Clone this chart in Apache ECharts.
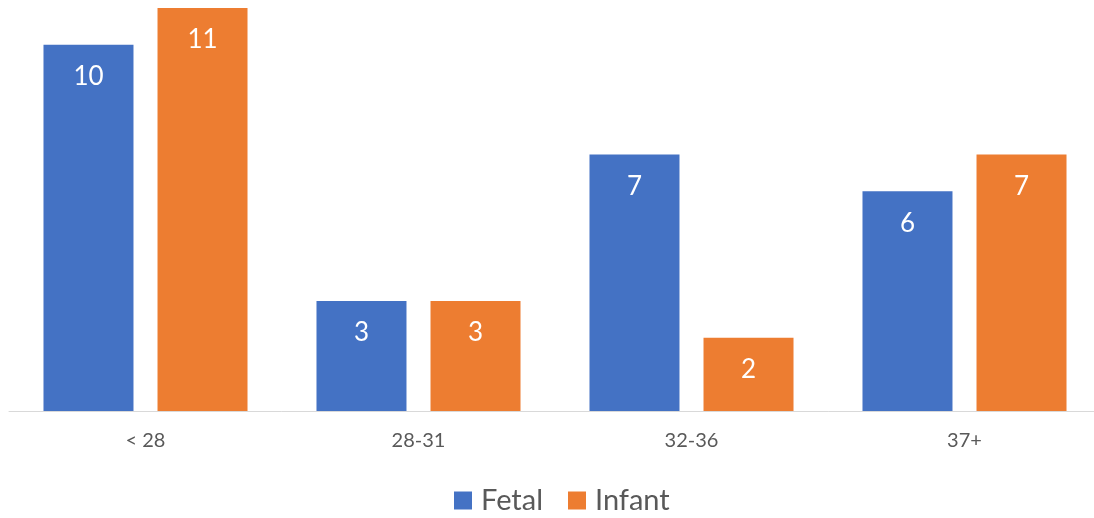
<!DOCTYPE html>
<html>
<head>
<meta charset="utf-8">
<script src="https://cdn.jsdelivr.net/npm/echarts@6/dist/echarts.min.js"></script>
<style>
  html, body { margin: 0; padding: 0; background: #fff; overflow: hidden; }
  #chart { width: 1110px; height: 518px; }
</style>
</head>
<body>
<div id="chart"></div>
<script>
// Gestational age groups and death counts per group
const categories = ['< 28', '28-31', '32-36', '37+'];
const fetal = [10, 3, 7, 6];
const infant = [11, 3, 2, 7];

const font = 'Lato, "Open Sans", sans-serif';
const chart = echarts.init(document.getElementById('chart'));

const labelStyle = {
  show: true,
  position: 'insideTop',
  distance: 19,
  color: '#ffffff',
  fontSize: 26,
  fontFamily: font
};

chart.setOption({
  animation: false,
  grid: { left: 9, top: 8, width: 1092, height: 403 },
  legend: {
    top: 481,
    left: 449,
    itemWidth: 18,
    itemHeight: 18,
    itemGap: 25,
    icon: 'rect',
    textStyle: { fontSize: 29, color: '#595959', fontFamily: font, padding: [0, 0, 0, 4] },
    data: ['Fetal', 'Infant']
  },
  xAxis: {
    type: 'category',
    data: categories,
    axisLine: { lineStyle: { color: '#D9D9D9', width: 1 } },
    axisTick: { show: false },
    axisLabel: { color: '#595959', fontSize: 20, fontFamily: font, margin: 20 }
  },
  yAxis: {
    type: 'value',
    min: 0,
    max: 11,
    show: false,
    splitLine: { show: false }
  },
  series: [
    {
      name: 'Fetal',
      type: 'bar',
      data: fetal,
      barWidth: 90,
      barGap: '26.7%',
      itemStyle: { color: '#4472C4' },
      label: labelStyle
    },
    {
      name: 'Infant',
      type: 'bar',
      data: infant,
      barWidth: 90,
      itemStyle: { color: '#ED7D31' },
      label: labelStyle
    }
  ]
});
</script>
</body>
</html>
